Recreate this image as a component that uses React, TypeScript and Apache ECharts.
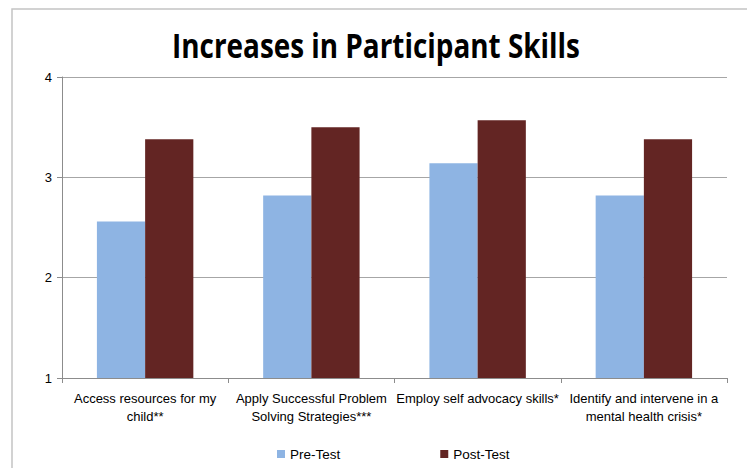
import React, { useEffect, useRef } from "react";
import * as echarts from "echarts";

const categories = [
  "Access resources for my\nchild**",
  "Apply Successful Problem\nSolving Strategies***",
  "Employ self advocacy skills*",
  "Identify and intervene in a\nmental health crisis*",
];
const preTest = [2.56, 2.82, 3.14, 2.82];
const postTest = [3.38, 3.5, 3.57, 3.38];
const yTicks = [1, 2, 3, 4];
const titleText = "Increases in Participant Skills";

const FONT = "'Liberation Sans', Arial, sans-serif";
const TITLE_FONT = "'Open Sans', sans-serif";

export default function App() {
  const ref = useRef<HTMLDivElement>(null);
  useEffect(() => {
    document.body.style.margin = "0";
    const chart = echarts.init(ref.current!, undefined, { renderer: "svg" });
    chart.setOption({
      animation: false,
      backgroundColor: "#ffffff",
      graphic: [
        {
          type: "rect",
          shape: { x: 12, y: 9, width: 900, height: 600 },
          style: { fill: "none", stroke: "#c4c4c4", lineWidth: 1.5 },
          silent: true,
        },
        {
          type: "text",
          x: 376,
          y: 45,
          scaleX: 0.82,
          style: {
            text: titleText,
            fontFamily: TITLE_FONT,
            fontSize: 34,
            fontWeight: "bold",
            fill: "#000",
            textAlign: "center",
            textVerticalAlign: "middle",
          },
          silent: true,
        },
      ],
      legend: {
        top: 442,
        left: 272,
        itemWidth: 8,
        itemHeight: 8,
        itemGap: 100,
        icon: "rect",
        textStyle: { fontFamily: FONT, fontSize: 13.5, color: "#000" },
        data: ["Pre-Test", "Post-Test"],
      },
      grid: { left: 62, right: 20, top: 77, bottom: 90 },
      xAxis: {
        type: "category",
        data: categories,
        axisLine: { lineStyle: { color: "#8c8c8c" } },
        axisTick: { show: true, length: 5, lineStyle: { color: "#8c8c8c" } },
        axisLabel: {
          fontFamily: FONT,
          fontSize: 13,
          color: "#000",
          lineHeight: 18.5,
          margin: 11,
          interval: 0,
        },
      },
      yAxis: {
        type: "value",
        min: 1,
        max: 4,
        interval: 1,
        axisLine: { show: true, lineStyle: { color: "#8c8c8c" } },
        axisTick: { show: true, length: 5, lineStyle: { color: "#8c8c8c" } },
        splitLine: { lineStyle: { color: "#a6a6a6", width: 1 } },
        axisLabel: {
          fontFamily: FONT,
          fontSize: 13,
          color: "#000",
          margin: 10,
          formatter: (v: number) => (yTicks.includes(v) ? String(v) : ""),
        },
      },
      series: [
        {
          name: "Pre-Test",
          type: "bar",
          data: preTest,
          itemStyle: { color: "#8EB4E3" },
          barGap: "0%",
          barCategoryGap: "42%",
        },
        {
          name: "Post-Test",
          type: "bar",
          data: postTest,
          itemStyle: { color: "#632523" },
        },
      ],
    });
    return () => chart.dispose();
  }, []);
  return (
    <div
      ref={ref}
      style={{ position: "absolute", left: 0, top: 0, width: 747, height: 468 }}
    />
  );
}
